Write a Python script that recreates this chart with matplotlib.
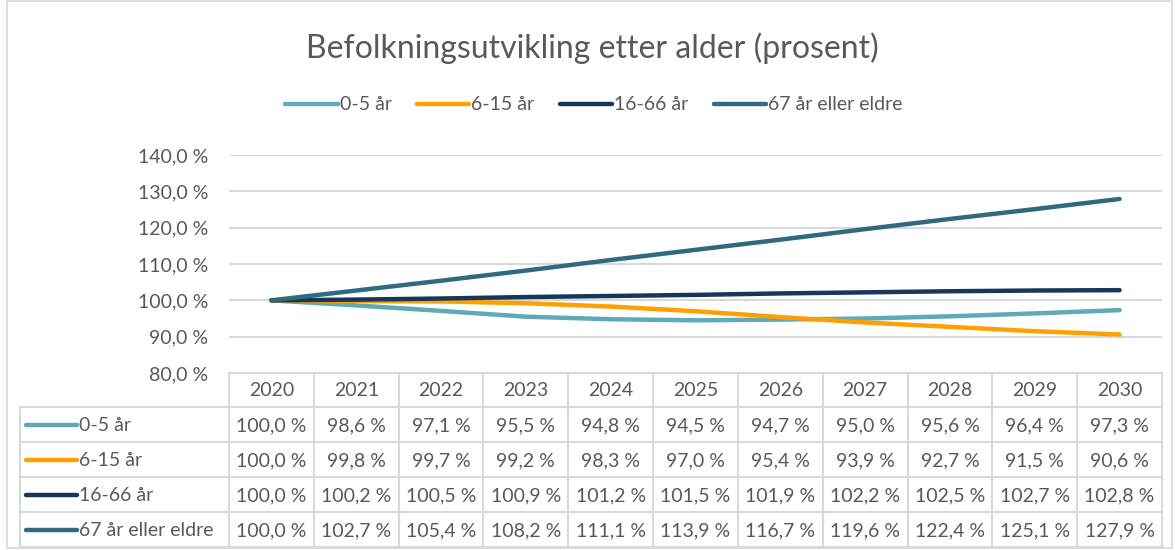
import matplotlib.pyplot as plt
from matplotlib.lines import Line2D
from matplotlib.patches import Rectangle

plt.rc('font', family='Lato')

years = [2020, 2021, 2022, 2023, 2024, 2025, 2026, 2027, 2028, 2029, 2030]
series_names = ['0-5 år', '6-15 år', '16-66 år', '67 år eller eldre']
age_0_5 = [100.0, 98.6, 97.1, 95.5, 94.8, 94.5, 94.7, 95.0, 95.6, 96.4, 97.3]
age_6_15 = [100.0, 99.8, 99.7, 99.2, 98.3, 97.0, 95.4, 93.9, 92.7, 91.5, 90.6]
age_16_66 = [100.0, 100.2, 100.5, 100.9, 101.2, 101.5, 101.9, 102.2, 102.5, 102.7, 102.8]
age_67 = [100.0, 102.7, 105.4, 108.2, 111.1, 113.9, 116.7, 119.6, 122.4, 125.1, 127.9]
y_ticks = [80, 90, 100, 110, 120, 130, 140]

colors = ['#5eaab9', '#ffa000', '#15375a', '#2f6b7e']
all_series = [age_0_5, age_6_15, age_16_66, age_67]

W, H = 1175, 550
text_col = '#595959'
grid_col = '#d9d9d9'
fs = 14


def pct(v):
    return f'{v:.1f}'.replace('.', ',') + ' %'


fig = plt.figure(figsize=(W / 100, H / 100), dpi=100)

# background axes in pixel coordinates, for the frame and the data table
bg = fig.add_axes([0, 0, 1, 1])
bg.set_xlim(0, W)
bg.set_ylim(H, 0)
bg.axis('off')
bg.add_patch(Rectangle((7, 1), 1165, 547, fill=False, edgecolor=grid_col, lw=1.2))

# plot area
px_left, px_right, px_top, px_bot = 229, 1162, 155, 373
ax = fig.add_axes([px_left / W, 1 - px_bot / H, (px_right - px_left) / W, (px_bot - px_top) / H])
x = list(range(len(years)))
for vals, c, name in zip(all_series, colors, series_names):
    ax.plot(x, vals, color=c, lw=3.2, solid_capstyle='round', label=name, zorder=3)
ax.set_xlim(-0.5, len(years) - 0.5)
ax.set_ylim(80, 140)
ax.set_yticks(y_ticks)
ax.set_yticklabels([pct(v) for v in y_ticks], color=text_col, fontsize=fs)
ax.tick_params(axis='y', length=0, pad=15)
ax.set_xticks([])
ax.grid(axis='y', color=grid_col, lw=1.5)
for s in ax.spines.values():
    s.set_visible(False)
ax.patch.set_alpha(0)

fig.text(592 / W, 1 - 48 / H, 'Befolkningsutvikling etter alder (prosent)',
         ha='center', va='center', fontsize=23, color=text_col)

fig.legend(loc='center', bbox_to_anchor=(594 / W, 1 - 105 / H), ncol=4, frameon=False,
           fontsize=fs, labelcolor=text_col, handlelength=2.7, handletextpad=0.1,
           columnspacing=1.3)

# data table
col_w = (px_right - px_left) / len(years)
row_h = 35
label_left = 20
header_top = px_bot
rows_top = header_top + 34
bottom = rows_top + row_h * len(series_names)

# horizontal lines
bg.plot([px_left, px_right], [header_top, header_top], color=grid_col, lw=1.5)
for i in range(len(series_names) + 1):
    yy = rows_top + i * row_h
    bg.plot([label_left, px_right], [yy, yy], color=grid_col, lw=1.5)
# vertical lines
bg.plot([label_left, label_left], [rows_top, bottom], color=grid_col, lw=1.5)
for j in range(len(years) + 1):
    xx = px_left + j * col_w
    bg.plot([xx, xx], [header_top, bottom], color=grid_col, lw=1.5)

for j, yr in enumerate(years):
    bg.text(px_left + (j + 0.5) * col_w, header_top + 17, str(yr), ha='center', va='center',
            fontsize=fs, color=text_col)

for i, (name, vals, c) in enumerate(zip(series_names, all_series, colors)):
    yc = rows_top + (i + 0.5) * row_h
    bg.add_line(Line2D([26, 77], [yc, yc], color=c, lw=3.2, solid_capstyle='round'))
    bg.text(79, yc + 1, name, ha='left', va='center', fontsize=fs, color=text_col)
    for j, v in enumerate(vals):
        bg.text(px_left + (j + 0.5) * col_w, yc + 1, pct(v), ha='center', va='center',
                fontsize=fs, color=text_col)

plt.savefig('out.png', dpi=100)
